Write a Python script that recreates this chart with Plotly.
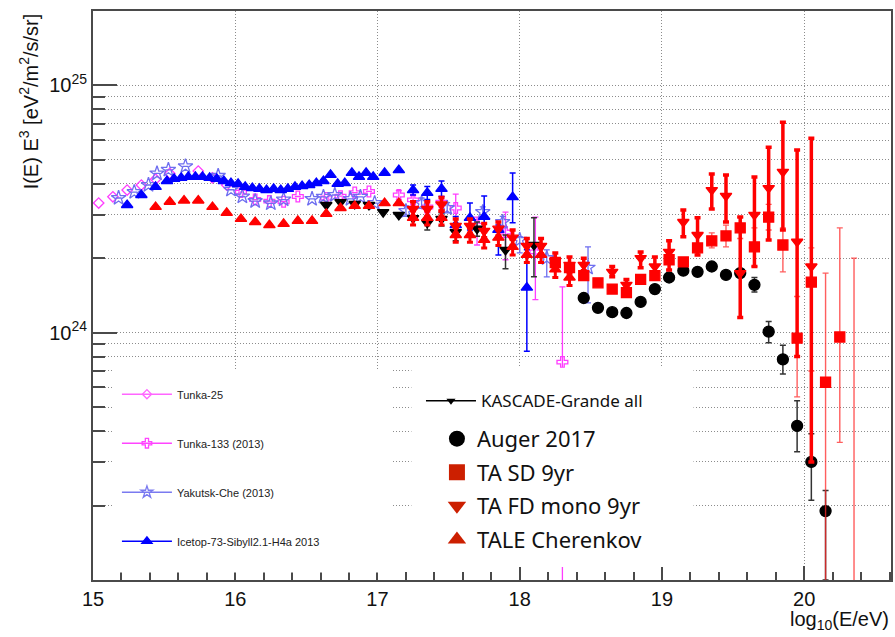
import plotly.graph_objects as go

UNIT = 1e24  # flux values below are in units of 1e24 eV^2/m^2/s/sr

# ---------------- data (log10 E, I*E^3 / 1e24, error bounds) ----------------
t25_E = [15.04, 15.14, 15.24, 15.34, 15.44, 15.54, 15.74, 15.84, 15.94]
t25_v = [3.34, 3.54, 3.77, 3.95, 4.17, 4.40, 4.50, 4.22, 3.95]

t133_E = [16.04, 16.14, 16.24, 16.34, 16.44, 16.64, 16.74, 16.84, 16.94, 17.15, 17.25, 17.35,
          17.45, 17.55, 17.70, 17.90, 18.11, 18.30]
t133_v = [3.70, 3.45, 3.40, 3.38, 3.55, 3.50, 3.56, 3.68, 3.72, 3.60, 3.44, 3.22,
          3.37, 3.19, 2.72, 2.55, 2.12, 0.76]
t133_up = [None] * 9 + [3.75, 3.60, 3.40, 3.55, 3.63, 2.93, 3.07, 2.93, 1.53]
t133_lo = [None] * 9 + [3.45, 3.30, 3.05, 3.20, 2.75, 2.26, 1.97, 1.36, 0.01]

yak_E = [15.18, 15.29, 15.39, 15.45, 15.53, 15.65, 15.88, 15.97, 16.05, 16.14, 16.25, 16.34,
         16.54, 16.62, 16.70, 16.81, 16.88, 16.98, 17.20, 17.31, 17.49, 17.74, 17.88, 18.00,
         18.19, 18.48]
yak_v = [3.50, 3.70, 3.95, 4.40, 4.55, 4.70, 4.30, 3.78, 3.55, 3.40, 3.33, 3.45,
         3.47, 3.54, 3.60, 3.47, 3.54, 3.34, 3.10, 3.34, 3.19, 3.07, 2.80, 2.37,
         2.00, 1.83]
yak_up = [None] * 18 + [3.25, 3.50, 3.35, 3.22, 2.95, 2.44, 2.16, 2.22]
yak_lo = [None] * 18 + [2.95, 3.18, 3.05, 2.92, 2.65, 2.10, 1.68, 1.32]

ice_E = [15.24, 15.34, 15.44,
         15.52, 15.57, 15.62, 15.67, 15.72, 15.77, 15.82, 15.87, 15.92, 15.97,
         16.02, 16.07, 16.12, 16.17, 16.22, 16.27, 16.32, 16.37, 16.42, 16.47,
         16.52, 16.57, 16.62, 16.67, 16.72, 16.77, 16.82, 16.87, 16.92, 16.97,
         17.05, 17.15, 17.25, 17.35, 17.45, 17.55, 17.65, 17.75, 17.85, 17.95, 18.05]
ice_v = [3.28, 3.60, 3.88,
         4.10, 4.18, 4.22, 4.26, 4.26, 4.26, 4.22, 4.18, 4.10, 4.02,
         3.99, 3.88, 3.84, 3.81, 3.77, 3.81, 3.77, 3.81, 3.88, 3.91,
         3.95, 4.02, 4.10, 4.34, 3.99, 4.02, 4.42, 4.26, 4.42, 4.26,
         4.42, 4.54, 3.77, 3.67, 3.81, 2.72, 2.91, 2.94, 2.60, 3.53, 1.52]
ice_up = [None] * 35 + [3.95, 3.90, 4.10, 2.95, 3.34, 3.57, 2.72, 4.42, 2.16]
ice_lo = [None] * 35 + [3.60, 3.45, 3.55, 2.50, 2.60, 2.60, 2.06, 2.78, 0.84]

kg_E = [16.64, 16.74, 16.84, 16.94, 17.04, 17.15, 17.25, 17.35, 17.45, 17.55, 17.70, 17.90, 18.10]
kg_v = [3.28, 3.37, 3.31, 3.28, 3.07, 2.99, 2.90, 2.78, 2.88, 2.55, 2.63, 2.16, 2.26]
kg_up = [None] * 7 + [2.95, 3.05, 2.75, 2.80, 2.48, 2.91]
kg_lo = [None] * 7 + [2.60, 2.70, 2.35, 2.45, 1.81, 1.68]

auger_E = [18.45, 18.55, 18.65, 18.75, 18.85, 18.95, 19.05, 19.15, 19.25, 19.35, 19.45, 19.55,
           19.65, 19.75, 19.85, 19.95, 20.05, 20.15]
auger_v = [1.38, 1.26, 1.21, 1.20, 1.33, 1.50, 1.67, 1.78, 1.76, 1.85, 1.71, 1.74,
           1.56, 1.01, 0.78, 0.42, 0.30, 0.19]
auger_up = [None] * 12 + [1.67, 1.11, 0.89, 0.53, 0.39, 0.23]
auger_lo = [None] * 12 + [1.46, 0.91, 0.68, 0.33, 0.21, 0.10]

tasd_E = [18.25, 18.35, 18.45, 18.55, 18.65, 18.75, 18.85, 18.95, 19.05, 19.15, 19.25,
          19.35, 19.45, 19.55, 19.65, 19.75, 19.85, 19.95, 20.05, 20.15, 20.25, 20.35]
tasd_v = [1.92, 1.83, 1.70, 1.59, 1.50, 1.45, 1.64, 1.70, 1.97, 1.93, 2.20,
          2.35, 2.46, 2.65, 2.22, 2.93, 2.26, 0.95, 1.60, 0.63, 0.96, 0.05]
tasd_up = [None] * 11 + [2.53, 2.72, 2.93, 2.65, 3.30, 2.65, 1.40, 2.20, 1.74, 2.65, 2.00]
tasd_lo = [None] * 11 + [2.20, 2.22, 2.40, 1.85, 2.60, 1.76, 0.55, 0.70, 0.01, 0.36, 0.01]

tafd_E = [17.25, 17.35, 17.45, 17.55, 17.65, 17.75, 17.85, 17.95, 18.05, 18.15, 18.25, 18.35,
          18.45, 18.65, 18.75, 18.85, 18.95, 19.05, 19.15, 19.25, 19.35, 19.45, 19.55, 19.65,
          19.75, 19.85, 19.95, 20.05]
tafd_v = [3.16, 3.16, 3.30, 2.70, 2.70, 2.58, 2.63, 2.42, 2.24, 2.24, 1.95, 1.88,
          1.88, 1.76, 1.56, 2.00, 1.85, 2.12, 2.80, 2.48, 3.77, 3.57, 1.74, 2.99,
          3.84, 4.46, 2.33, 1.85]
tafd_up = [3.38, 3.38, 3.52, 2.88, 2.88, 2.76, 2.80, 2.60, 2.40, 2.40, 2.10, 2.02,
           2.00, 1.85, 1.64, 2.12, 2.02, 2.35, 3.13, 2.91, 4.38, 4.34, 2.93, 4.26,
           5.62, 7.09, 5.47, 6.11]
tafd_lo = [2.95, 2.95, 3.10, 2.52, 2.52, 2.42, 2.46, 2.25, 2.08, 2.08, 1.80, 1.74,
           1.78, 1.68, 1.49, 1.83, 1.71, 1.79, 2.44, 2.06, 3.16, 2.80, 1.15, 1.85,
           2.37, 2.60, 0.80, 0.30]

tale_E = [15.44, 15.54, 15.64, 15.74, 15.84, 15.94, 16.04, 16.14, 16.24, 16.34, 16.44, 16.54,
          16.64, 16.74, 16.84, 16.94, 17.05, 17.15, 17.25, 17.35, 17.45, 17.55, 17.65, 17.75,
          17.85, 17.95, 18.05, 18.15, 18.25, 18.35]
tale_v = [3.22, 3.38, 3.42, 3.42, 3.22, 3.05, 2.88, 2.80, 2.72, 2.75, 2.83, 2.83,
          3.02, 3.19, 3.25, 3.25, 3.34, 3.34, 2.91, 2.91, 2.91, 2.48, 2.48, 2.37,
          2.42, 2.22, 2.06, 2.06, 1.80, 1.67]
tale_up = [None] * 18 + [3.10, 3.10, 3.10, 2.65, 2.65, 2.55, 2.60, 2.38, 2.22, 2.20, 1.93, 1.80]
tale_lo = [None] * 18 + [2.72, 2.72, 2.72, 2.32, 2.32, 2.20, 2.25, 2.06, 1.92, 1.92, 1.67, 1.55]

y_minor = [2e23, 3e23, 4e23, 5e23, 6e23, 7e23, 8e23, 9e23,
           2e24, 3e24, 4e24, 5e24, 6e24, 7e24, 8e24, 9e24, 2e25]
y_major = [1e24, 1e25]
y_major_text = ["10<sup>24</sup>", "10<sup>25</sup>"]
x_major = [15, 16, 17, 18, 19, 20]

# ---------------- helpers ----------------
def scaled(v):
    return [a * UNIT for a in v]


def bars(v, up, lo):
    plus = [0 if u is None else (u - a) * UNIT for a, u in zip(v, up)]
    minus = [0 if l is None else (a - l) * UNIT for a, l in zip(v, lo)]
    return plus, minus


FONT = "Liberation Sans, Arial, sans-serif"
MAG = "#ff3cff"
YAK = "#6e6ef0"
BLUE = "#0000ff"
RED = "#ff0000"

fig = go.Figure()


def data_trace(E, v, up, lo, symbol, color, size, ecolor, ethick, ewidth=3, lw=1.3):
    tr = dict(x=E, y=scaled(v), mode="markers", showlegend=False,
              marker=dict(symbol=symbol, color=color, size=size,
                          line=dict(color=color, width=lw)),
              hoverinfo="skip")
    if up is not None:
        p, m = bars(v, up, lo)
        tr["error_y"] = dict(type="data", symmetric=False, array=p, arrayminus=m,
                             color=ecolor, thickness=ethick, width=ewidth)
    fig.add_trace(go.Scatter(**tr))


data_trace(t25_E, t25_v, None, None, "diamond-open", MAG, 8, MAG, 1)
data_trace(t133_E, t133_v, t133_up, t133_lo, "cross-open", MAG, 9, MAG, 1.3)
data_trace(yak_E, yak_v, yak_up, yak_lo, "star-open", YAK, 11, YAK, 1.3)
data_trace(ice_E, ice_v, ice_up, ice_lo, "triangle-up", BLUE, 10, BLUE, 1.5)
data_trace(kg_E, kg_v, kg_up, kg_lo, "triangle-down", "black", 10, "#333333", 1.5)
data_trace(auger_E, auger_v, auger_up, auger_lo, "circle", "black", 11, "#333333", 1.5)
data_trace(tasd_E, tasd_v, tasd_up, tasd_lo, "square", RED, 10, "rgba(255,40,40,0.75)", 1.4)
data_trace(tafd_E, tafd_v, tafd_up, tafd_lo, "triangle-down", RED, 10, RED, 3.5, ewidth=3)
data_trace(tale_E, tale_v, tale_up, tale_lo, "triangle-up", RED, 10, RED, 3, ewidth=3)

# ---------------- legend entries (no data, legend only) ----------------
left_items = [
    ("Tunka-25", "diamond-open", "#ff66ff", 7),
    ("Tunka-133 (2013)", "cross-open", "#ff44ff", 8),
    ("Yakutsk-Che (2013)", "star-open", "#7a7af0", 9),
    ("Icetop-73-Sibyll2.1-H4a 2013", "triangle-up", "#0000ff", 9),
]
for i, (name, sym, col, sz) in enumerate(left_items):
    fig.add_trace(go.Scatter(
        x=[None], y=[None], mode="lines+markers", name=name, legend="legend",
        legendgroup="L%d" % i,
        marker=dict(symbol=sym, color=col, size=sz, line=dict(color=col, width=1.3)),
        line=dict(color=col, width=1.5)))

fig.add_trace(go.Scatter(
    x=[None], y=[None], mode="lines+markers", name="KASCADE-Grande all", legend="legend3",
    marker=dict(symbol="triangle-down", color="black", size=8),
    line=dict(color="black", width=1.5)))

right_items = [
    ("Auger 2017", "circle", "black"),
    ("TA SD 9yr", "square", "#cc1f00"),
    ("TA FD mono 9yr", "triangle-down", "#cc1f00"),
    ("TALE Cherenkov", "triangle-up", "#cc1f00"),
]
for i, (name, sym, col) in enumerate(right_items):
    fig.add_trace(go.Scatter(
        x=[None], y=[None], mode="markers", name=name, legend="legend2",
        legendgroup="R%d" % i,
        marker=dict(symbol=sym, color=col, size=16)))

# ---------------- layout ----------------
GRID = "#8c8c8c"
GDASH = "1px,2px"
AX = "#4a4a4a"

fig.update_layout(
    width=895, height=637,
    margin=dict(l=93, r=2, t=11, b=57),
    paper_bgcolor="white", plot_bgcolor="white",
    font=dict(family=FONT, color="#111111"),
    xaxis=dict(range=[15, 20.61], tickmode="array", tickvals=x_major,
               ticks="inside", ticklen=14, tickwidth=1.5, tickcolor=AX,
               tickfont=dict(size=20, family=FONT, color="#111111"),
               showline=True, linecolor=AX, linewidth=2, mirror=True,
               showgrid=True, gridcolor=GRID, griddash=GDASH, gridwidth=1,
               zeroline=False,
               minor=dict(tickmode="linear", tick0=15, dtick=0.2, ticks="inside",
                          ticklen=8, tickwidth=1.5, tickcolor=AX, showgrid=False)),
    yaxis=dict(type="log", range=[23.0, 25.3], tickmode="array",
               tickvals=y_major, ticktext=y_major_text,
               ticks="inside", ticklen=24, tickwidth=1.5, tickcolor=AX,
               tickfont=dict(size=20, family=FONT, color="#111111"),
               showline=True, linecolor=AX, linewidth=2, mirror=True,
               showgrid=True, gridcolor=GRID, griddash=GDASH, gridwidth=1,
               zeroline=False,
               minor=dict(tickmode="array", tickvals=y_minor, ticks="inside",
                          ticklen=12, tickwidth=1.5, tickcolor=AX,
                          showgrid=True, gridcolor=GRID, griddash=GDASH, gridwidth=1)),
    legend=dict(x=0.03, y=0.352, xanchor="left", yanchor="top",
                bgcolor="rgba(0,0,0,0)", borderwidth=0,
                font=dict(size=11, family=FONT, color="#222222"),
                tracegroupgap=30, itemwidth=50),
    legend2=dict(x=0.431, y=0.285, xanchor="left", yanchor="top",
                 bgcolor="rgba(0,0,0,0)", borderwidth=0,
                 font=dict(size=22, family="Noto Sans, Liberation Sans, sans-serif", color="#111111"),
                 tracegroupgap=2, itemwidth=30),
    legend3=dict(x=0.411, y=0.346, xanchor="left", yanchor="top",
                 bgcolor="rgba(0,0,0,0)", borderwidth=0,
                 font=dict(size=17, family="Noto Sans, Liberation Sans, sans-serif", color="#111111"),
                 itemwidth=50),
    shapes=[
        dict(type="rect", xref="paper", yref="paper", x0=0.024, x1=0.374, y0=0.013, y1=0.369,
             fillcolor="white", line=dict(width=0), layer="above"),
        dict(type="rect", xref="paper", yref="paper", x0=0.399, x1=0.7525, y0=0.023, y1=0.373,
             fillcolor="white", line=dict(width=0), layer="above"),
    ],
    annotations=[
        dict(text="I(E) E<sup>3</sup> [eV<sup>2</sup>/m<sup>2</sup>/s/sr]",
             xref="paper", yref="paper", x=-0.081, y=1.0, xanchor="center", yanchor="top",
             textangle=-90, showarrow=False, font=dict(size=20, family=FONT, color="#111111")),
        dict(text="log<sub>10</sub>(E/eV)", xref="paper", yref="paper", x=1.0, y=-0.072,
             xanchor="right", yanchor="middle", showarrow=False,
             font=dict(size=20, family=FONT, color="#111111")),
    ],
)

fig.write_html("out.html")
